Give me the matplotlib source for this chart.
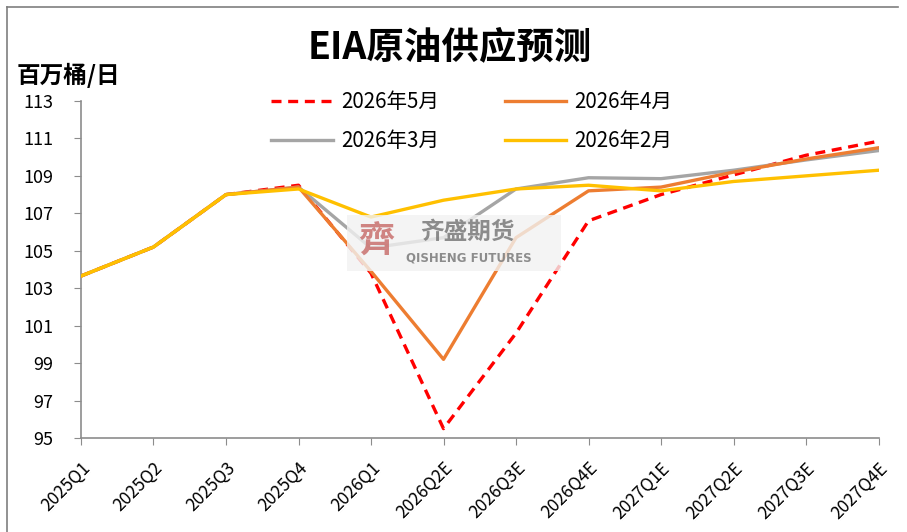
import numpy as np
import matplotlib.pyplot as plt
from matplotlib.patches import Rectangle
from matplotlib.lines import Line2D

plt.rcParams['font.family'] = ['Noto Sans CJK SC', 'DejaVu Sans']

quarters = ['2025Q1', '2025Q2', '2025Q3', '2025Q4', '2026Q1', '2026Q2E',
            '2026Q3E', '2026Q4E', '2027Q1E', '2027Q2E', '2027Q3E', '2027Q4E']

may = [103.65, 105.2, 108.0, 108.5, 103.8, 95.5, 100.6, 106.6, 108.0, 109.05, 110.1, 110.85]
apr = [103.65, 105.2, 108.0, 108.4, 103.9, 99.2, 105.7, 108.2, 108.4, 109.2, 109.9, 110.5]
mar = [103.65, 105.2, 108.0, 108.4, 105.15, 105.7, 108.3, 108.9, 108.85, 109.3, 109.85, 110.35]
feb = [103.65, 105.2, 108.0, 108.3, 106.8, 107.7, 108.3, 108.5, 108.2, 108.7, 109.0, 109.3]

x = np.arange(len(quarters))

fig = plt.figure(figsize=(9.07, 5.32), dpi=100)
ax = fig.add_axes([0.0893, 0.1767, 0.8793, 0.6335])

# outer frame (left / top edges of the chart box)
fig.add_artist(Line2D([0.0077, 0.0077], [0, 0.987], transform=fig.transFigure, color='#7f7f7f', lw=1.2))
fig.add_artist(Line2D([0.0077, 0.99], [0.987, 0.987], transform=fig.transFigure, color='#7f7f7f', lw=1.2))

# watermark
fig.add_artist(Rectangle((0.383, 0.49), 0.235, 0.105, transform=fig.transFigure,
                         facecolor='#f2f2f2', edgecolor='none', alpha=0.8, zorder=0.5))
fig.text(0.415, 0.545, '齊', color='#c9706e', fontsize=26, fontweight='bold',
         ha='center', va='center', alpha=0.85)
fig.text(0.515, 0.565, '齐盛期货', color='#7a7a7a', fontsize=17, fontweight='bold',
         ha='center', va='center', alpha=0.85)
fig.text(0.517, 0.515, 'QISHENG FUTURES', color='#7a7a7a', fontsize=8.5, fontweight='bold',
         ha='center', va='center', alpha=0.85, family='DejaVu Sans')

ax.plot(x, may, color='#FF0000', lw=2.4, ls=(0, (3, 2)), label='2026年5月', zorder=3)
ax.plot(x, mar, color='#A5A5A5', lw=2.4, label='2026年3月', zorder=4)
ax.plot(x, apr, color='#ED7D31', lw=2.4, label='2026年4月', zorder=5)
ax.plot(x, feb, color='#FFC000', lw=2.4, label='2026年2月', zorder=6)

ax.set_xlim(0, len(quarters) - 1)
ax.set_ylim(95, 113)
ax.set_yticks(np.arange(95, 114, 2))
ax.set_xticks(x)
ax.set_xticklabels(quarters, rotation=45, ha='right', va='top', rotation_mode='anchor',
                   fontsize=12.5)
ax.tick_params(axis='y', labelsize=13, pad=15, length=5, color='#8c8c8c')
ax.tick_params(axis='x', pad=10, length=5, color='#8c8c8c')

for s in ['top', 'right']:
    ax.spines[s].set_visible(False)
for s in ['left', 'bottom']:
    ax.spines[s].set_color('#8c8c8c')
    ax.spines[s].set_linewidth(1.2)

fig.text(0.496, 0.913, 'EIA原油供应预测', fontsize=27, fontweight='bold', ha='center', va='center')
fig.text(0.018, 0.858, '百万桶/日', fontsize=17, fontweight='bold', ha='left', va='center')

ax.legend(ncol=2, loc='upper left', bbox_to_anchor=(0.215, 1.085), frameon=False,
          fontsize=14.8, handlelength=3.0, handletextpad=0.4, columnspacing=3.2,
          labelspacing=0.85)

fig.savefig('out.png', dpi=100)
